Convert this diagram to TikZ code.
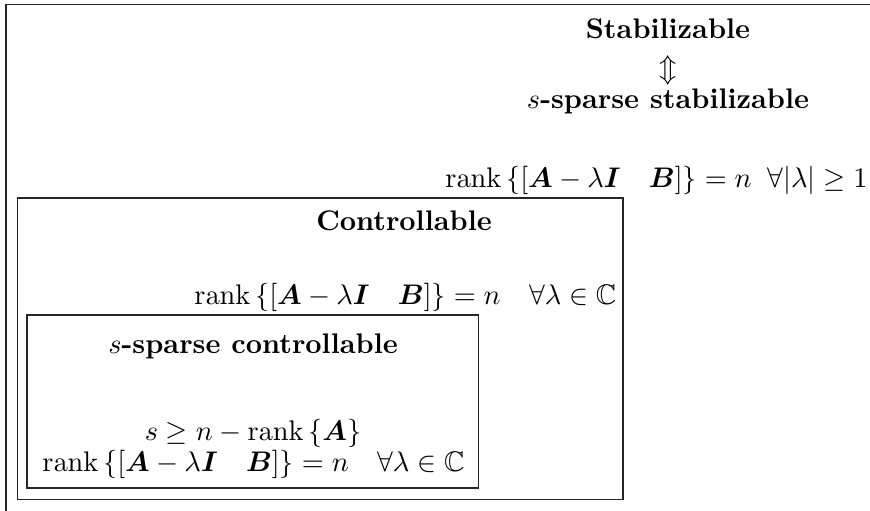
\documentclass[tikz,border=0pt]{standalone}
\usepackage{amsmath,amssymb,bm}
\newcommand{\rk}{\operatorname{rank}\,}
\tikzset{
  boxline/.style={draw=black!85, line width=0.45pt},
  title/.style={font=\bfseries, inner sep=0pt},
  formula/.style={inner sep=0pt}
}
\begin{document}
\begin{tikzpicture}[x=0.3529pt,y=-0.3529pt]
\useasboundingbox (0,0) rectangle (870,511);
\begin{scope}
\clip (0,0) rectangle (870,511);
\draw[boxline] (6,530) -- (6,4.5) -- (890,4.5);
\end{scope}
% boxes
\draw[boxline] (17.5,198) rectangle (623,499.5);
\draw[boxline] (27,315) rectangle (478.5,488);
% stabilizable block
\node[title] (stab) at (668,29) {Stabilizable};
\node[formula] (eq) at (668,70) {$\Updownarrow$};
\node[title] (sstab) at (668,101) {$s$-sparse stabilizable};
\node[formula, anchor=base east] (stabcond) at (868,188)
  {$\rk\{[\bm{A}-\lambda\bm{I}\quad\bm{B}]\}=n\;\;\forall|\lambda|\geq 1$};
% controllable block
\node[title] (ctrl) at (404,221) {Controllable};
\node[formula, anchor=base east] (ctrlcond) at (617,304)
  {$\rk\{[\bm{A}-\lambda\bm{I}\quad\bm{B}]\}=n\quad\forall\lambda\in\mathbb{C}$};
% sparse controllable block
\node[title] (sctrl) at (253,346) {$s$-sparse controllable};
\node[formula, anchor=base] (scond1) at (253,440) {$s\geq n-\rk\{\bm{A}\}$};
\node[formula, anchor=base] (scond2) at (253.5,471)
  {$\rk\{[\bm{A}-\lambda\bm{I}\quad\bm{B}]\}=n\quad\forall\lambda\in\mathbb{C}$};
\end{tikzpicture}
\end{document}
